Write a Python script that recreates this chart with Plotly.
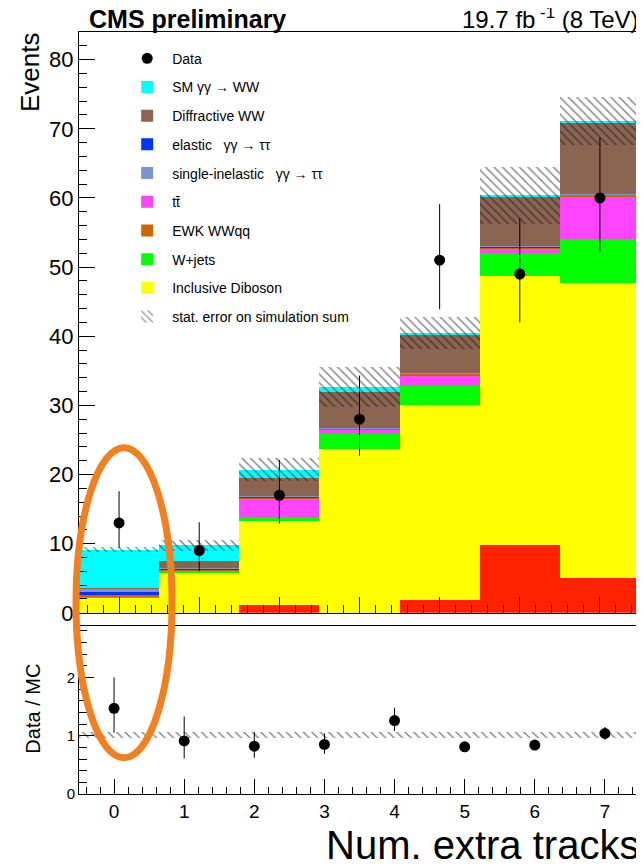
import plotly.graph_objects as go

FONT = "Liberation Sans, Arial, Helvetica, sans-serif"

# ---------------- data ----------------
bins_main = [0, 1, 2, 3, 4, 5, 6]
bins_ratio = [0, 1, 2, 3, 4, 5, 6, 7]

data_events = [13, 9, 17, 28, 51, 49, 60]
data_err_up = [4.6, 4.1, 5.1, 6.3, 8.1, 8.0, 8.7]
data_err_dn = [3.6, 3.0, 4.1, 5.3, 7.1, 7.0, 7.8]

# stacked simulation components, bottom -> top
diboson = [2.1, 5.8, 13.3, 23.7, 30.1, 48.7, 47.7]
wjets = [0.3, 0.25, 0.6, 2.1, 2.7, 3.4, 6.4]
ttbar = [0.02, 0.1, 2.6, 0.7, 1.5, 0.5, 6.0]
ewk_wwqq = [0.15, 0.1, 0.2, 0.15, 0.3, 0.3, 0.4]
elastic_tautau = [0.4, 0.1, 0.1, 0.05, 0.05, 0.05, 0.05]
single_inel_tautau = [0.5, 0.15, 0.1, 0.05, 0.05, 0.05, 0.05]
diffractive_ww = [0.05, 1.0, 2.6, 5.25, 5.5, 7.2, 10.2]
sm_gg_ww = [5.6, 2.3, 1.2, 0.7, 0.3, 0.2, 0.3]

# unlabelled red component drawn at the bottom
red_component = [0, 0, 1.2, 0, 1.8, 9.8, 5.0]

# MC statistical uncertainty (half width of hatched band)
mc_stat_err = [0.35, 0.8, 1.7, 2.9, 2.3, 4.1, 3.5]

ratio_vals = [1.47, 0.91, 0.82, 0.85, 1.26, 0.81, 0.84, 1.04]
ratio_err_up = [0.53, 0.42, 0.24, 0.19, 0.22, 0.08, 0.09, 0.11]
ratio_err_dn = [0.42, 0.30, 0.20, 0.16, 0.18, 0.09, 0.08, 0.11]
ratio_band_err = [0.05, 0.05, 0.05, 0.05, 0.05, 0.05, 0.05, 0.05]
ratio_band_center = [1, 1, 1, 1, 1, 1, 1, 1]

NB = "\u00a0"
components = [
    ("Inclusive Diboson", diboson, "#FFFF00", 9),
    ("W+jets", wjets, "#00FF00", 8),
    ("t" + "t\u0304", ttbar, "#FF44FF", 6),
    ("EWK WWqq", ewk_wwqq, "#CC6600", 7),
    ("elastic" + NB * 3 + "γγ →" + NB + "ττ", elastic_tautau, "#0033FF", 4),
    ("single-inelastic" + NB * 3 + "γγ →" + NB + "ττ", single_inel_tautau, "#7A96CC", 5),
    ("Diffractive WW", diffractive_ww, "#8B6452", 3),
    ("SM" + NB + "γγ → WW", sm_gg_ww, "#00FFFF", 2),
]

fig = go.Figure()

base = [0.0] * len(bins_main)
for name, vals, color, rank in components:
    fig.add_trace(go.Bar(
        x=bins_main, y=vals, base=list(base), width=1,
        marker=dict(color=color, line=dict(width=0)),
        name=name, legendrank=rank, legendgroup=name,
        xaxis="x", yaxis="y",
    ))
    base = [b + v for b, v in zip(base, vals)]
total_mc = base

fig.add_trace(go.Bar(
    x=bins_main, y=red_component, base=[0] * len(bins_main), width=1,
    marker=dict(color="#FF2200", line=dict(width=0)),
    showlegend=False, xaxis="x", yaxis="y",
))

hatch = dict(shape="\\", fgcolor="#111111", bgcolor="rgba(0,0,0,0)", size=6, solidity=0.25)

fig.add_trace(go.Bar(
    x=bins_main, y=[2 * e for e in mc_stat_err],
    base=[t - e for t, e in zip(total_mc, mc_stat_err)], width=1,
    marker=dict(color="rgba(0,0,0,0)", pattern=hatch, line=dict(width=0)),
    name="stat. error on simulation sum", legendrank=10,
    legendgroup="stat", xaxis="x", yaxis="y",
))

fig.add_trace(go.Scatter(
    x=bins_main, y=data_events, mode="markers",
    marker=dict(color="black", size=11),
    error_y=dict(type="data", symmetric=False, array=data_err_up,
                 arrayminus=data_err_dn, color="black", thickness=1, width=0),
    name="Data", legendrank=1, legendgroup="data",
    xaxis="x", yaxis="y",
))

# ratio panel
fig.add_trace(go.Bar(
    x=bins_ratio, y=[2 * e for e in ratio_band_err],
    base=[c - e for c, e in zip(ratio_band_center, ratio_band_err)], width=1,
    marker=dict(color="rgba(0,0,0,0)", pattern=hatch, line=dict(width=0)),
    showlegend=False, xaxis="x2", yaxis="y2",
))
fig.add_trace(go.Scatter(
    x=bins_ratio, y=ratio_vals, mode="markers",
    marker=dict(color="black", size=11),
    error_y=dict(type="data", symmetric=False, array=ratio_err_up,
                 arrayminus=ratio_err_dn, color="black", thickness=1, width=0),
    showlegend=False, xaxis="x2", yaxis="y2",
))

axis_common = dict(
    showline=True, linecolor="black", linewidth=1, mirror=True,
    showgrid=False, zeroline=False, ticks="inside", tickcolor="black",
    tickwidth=1,
)

# page body has an 8px margin: the figure is sized so the plot lands where the reference has it
fig.update_layout(
    width=636, height=859,
    margin=dict(l=71, r=4, t=24, b=73),
    paper_bgcolor="white", plot_bgcolor="white",
    barmode="overlay", bargap=0,
    font=dict(family=FONT, color="black"),
    xaxis=dict(domain=[0, 1], anchor="y", range=[-0.5, 6.5], tick0=0, dtick=1,
               ticklen=16, showticklabels=False,
               minor=dict(ticks="inside", ticklen=8, dtick=0.2, tick0=0, tickcolor="black"),
               **axis_common),
    yaxis=dict(domain=[0.2378, 1], anchor="x", range=[0, 84], tick0=0, dtick=10,
               ticklen=16, tickfont=dict(size=22),
               minor=dict(ticks="inside", ticklen=8, dtick=2, tick0=0, tickcolor="black"),
               **axis_common),
    xaxis2=dict(domain=[0, 1], anchor="y2", range=[-0.5, 7.5], tick0=0, dtick=1,
                ticklen=15, tickfont=dict(size=19),
                minor=dict(ticks="inside", ticklen=7, dtick=0.2, tick0=0, tickcolor="black"),
                **axis_common),
    yaxis2=dict(domain=[0, 0.2199], anchor="x2", range=[0, 2.875], tick0=0, dtick=1,
                ticklen=15, tickfont=dict(size=15),
                minor=dict(ticks="inside", ticklen=8, dtick=0.2, tick0=0, tickcolor="black"),
                **axis_common),
    legend=dict(x=0.077, xanchor="left", y=0.986, yanchor="top",
                bgcolor="rgba(0,0,0,0)", font=dict(size=14, family=FONT),
                tracegroupgap=7.5, itemwidth=40),
    annotations=[
        dict(text="<b>CMS preliminary</b>", xref="paper", yref="paper",
             x=0.016, y=1, xanchor="left", yanchor="bottom", yshift=-2,
             borderpad=0, showarrow=False, font=dict(size=25, family=FONT)),
        dict(text="19.7 fb<sup> -1</sup> (8 TeV)", xref="paper", yref="paper",
             x=1, y=1, xanchor="right", yanchor="bottom", yshift=-2,
             borderpad=0, showarrow=False, font=dict(size=24, family=FONT)),
        dict(text="Events", xref="paper", yref="paper", x=-0.0873, y=0.9475,
             xanchor="center", yanchor="middle", textangle=-90, showarrow=False,
             font=dict(size=26, family=FONT)),
        dict(text="Data / MC", xref="paper", yref="paper", x=-0.082, y=0.112,
             xanchor="center", yanchor="middle", textangle=-90, showarrow=False,
             font=dict(size=20, family=FONT)),
        dict(text="Num. extra tracks", xref="paper", yref="paper", x=1, y=-0.0665,
             xanchor="right", yanchor="middle", borderpad=0, showarrow=False,
             font=dict(size=40, family=FONT)),
    ],
    shapes=[
        dict(type="circle", xref="paper", yref="paper", x0=-0.0053, x1=0.1658,
             y0=0.0476, y1=0.4543, line=dict(color="#F08020", width=7), layer="above"),
    ],
)

fig.write_html("out.html")
